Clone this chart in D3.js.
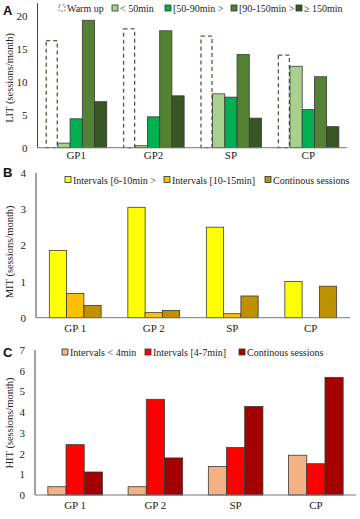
<!DOCTYPE html>
<html><head><meta charset="utf-8">
<script src="https://cdn.jsdelivr.net/npm/d3@7"></script>
<style>
body{margin:0;background:#fff;}
svg{display:block;}
</style></head>
<body>
<svg id="chart" width="360" height="519" font-family="'Liberation Serif', 'DejaVu Serif', serif"></svg>
<script>
// ---------- Data ----------
const groupsA = ["GP1", "GP2", "SP", "CP"];
const seriesA = ["Warm up", "< 50min", "[50-90min >", "[90-150min >", "\u2265 150min"];
const warmUp   = [16.3, 18.1, 17.0, 14.1];
const lt50     = [0.7, 0.3, 8.2, 12.4];
const m50to90  = [4.4, 4.7, 7.7, 5.8];
const m90to150 = [19.4, 17.8, 14.2, 10.8];
const ge150    = [7.0, 7.9, 4.5, 3.2];
const ticksA = [0, 5, 10, 15, 20];

const groupsBC = ["GP 1", "GP 2", "SP", "CP"];
const seriesB = ["Intervals [6-10min >", "Intervals [10-15min]", "Continous sessions"];
const mitInt6to10  = [1.86, 3.05, 2.5, 1.0];
const mitInt10to15 = [0.67, 0.14, 0.11, 0];
const mitCont      = [0.34, 0.2, 0.6, 0.87];
const ticksB = [0, 1, 2, 3, 4];

const seriesC = ["Intervals < 4min", "Intervals [4-7min]", "Continous sessions"];
const hitIntLt4  = [0.4, 0.4, 1.38, 1.92];
const hitInt4to7 = [2.43, 4.62, 2.29, 1.51];
const hitCont    = [1.11, 1.79, 4.27, 5.68];
const ticksC = [0, 1, 2, 3, 4, 5, 6, 7];

// ---------- Drawing ----------
const svg = d3.select("#chart");
const SERIF = "'Liberation Serif', 'DejaVu Serif', serif";

function txt(sel, size) {
  return sel.attr("font-family", SERIF).attr("font-weight", "normal")
    .attr("font-size", size).attr("fill", "#222");
}

function panel(o) {
  const g = svg.append("g");
  const x0 = d3.scaleBand().domain(o.groups).range(o.xr).paddingInner(o.pad).paddingOuter(o.pad / 2);
  const x1 = d3.scaleBand().domain(o.series).range([0, x0.bandwidth()]);
  const y = d3.scaleLinear().domain(o.yd).range(o.yr);

  // letter
  g.append("text").attr("x", 3).attr("y", o.letterY)
    .attr("font-family", "'Liberation Sans', Arial, sans-serif").attr("font-weight", "bold")
    .attr("font-size", 13).attr("fill", "#111").text(o.letter);

  // y tick labels
  txt(g.selectAll(".yt").data(o.ticks).join("text")
    .attr("x", o.xr[0] - 10).attr("y", d => y(d) + 4)
    .attr("text-anchor", "end"), 11).text(d => d);

  // y title
  txt(g.append("text")
    .attr("transform", `translate(13,${(o.yr[0] + o.titleTop) / 2}) rotate(-90)`)
    .attr("text-anchor", "middle"), 10.5).text(o.title);

  // bars
  o.series.forEach((s, i) => {
    const vals = o.values[i];
    const dashed = o.dashed && o.dashed[i];
    g.selectAll(null).data(o.groups.map((gr, j) => ({gr, v: vals[j]}))).join("rect")
      .filter(d => d.v > 0)
      .attr("x", d => x0(d.gr) + x1(s) + (dashed ? 0.6 : 0))
      .attr("width", x1.bandwidth() - (dashed ? 1.2 : 0))
      .attr("y", d => y(d.v))
      .attr("height", d => y(0) - y(d.v))
      .attr("fill", o.colors[i])
      .attr("stroke", dashed ? "#3e6b2c" : "#3a3a3a")
      .attr("stroke-width", dashed ? 1.3 : 0.8)
      .attr("stroke-dasharray", dashed ? "4,3" : null);
  });

  // axes lines
  g.append("line").attr("x1", o.xr[0]).attr("x2", o.xr[0])
    .attr("y1", y(o.yd[1])).attr("y2", y(0)).attr("stroke", "#444").attr("stroke-width", 1);
  g.append("line").attr("x1", o.xr[0]).attr("x2", o.xr[1])
    .attr("y1", y(0)).attr("y2", y(0)).attr("stroke", "#777").attr("stroke-width", 1);

  // category labels
  txt(g.selectAll(".xl").data(o.groups).join("text")
    .attr("x", d => x0(d) + x0.bandwidth() / 2).attr("y", o.catY)
    .attr("text-anchor", "middle"), 11).text(d => d);

  // legend
  o.series.forEach((s, i) => {
    const lx = o.legX[i];
    const dashed = o.dashed && o.dashed[i];
    g.append("rect").attr("x", lx).attr("y", o.legY - 7).attr("width", 6).attr("height", 6)
      .attr("fill", o.colors[i])
      .attr("stroke", dashed ? "#3e6b2c" : "#333").attr("stroke-width", 0.8)
      .attr("stroke-dasharray", dashed ? "2,1.5" : null);
    txt(g.append("text").attr("x", lx + 8).attr("y", o.legY), 10).text(s);
  });
}

panel({
  letter: "A", letterY: 15, groups: groupsA, series: seriesA,
  values: [warmUp, lt50, m50to90, m90to150, ge150],
  colors: ["#ffffff", "#a9d18e", "#00b050", "#548235", "#375623"],
  dashed: [true, false, false, false, false],
  xr: [37.5, 347], pad: 0.21, yd: [0, 22], yr: [147.7, 3.2], ticks: ticksA,
  title: "LIT (sessions/month)", titleTop: 8, catY: 159,
  legY: 12, legX: [59, 112, 165, 231, 296]
});

panel({
  letter: "B", letterY: 177, groups: groupsBC, series: seriesB,
  values: [mitInt6to10, mitInt10to15, mitCont],
  colors: ["#ffff00", "#ffc000", "#bf9000"],
  xr: [36, 350], pad: 0.34, yd: [0, 4], yr: [317.7, 172.9], ticks: ticksB,
  title: "MIT (sessions/month)", titleTop: 186, catY: 332,
  legY: 183.5, legX: [65, 164, 265]
});

panel({
  letter: "C", letterY: 357, groups: groupsBC, series: seriesC,
  values: [hitIntLt4, hitInt4to7, hitCont],
  colors: ["#f4b183", "#ff0000", "#a50000"],
  xr: [35, 356], pad: 0.32, yd: [0, 7], yr: [495, 350], ticks: ticksC,
  title: "HIT (sessions/month)", titleTop: 351, catY: 509,
  legY: 356, legX: [62, 145, 239]
});
</script>
</body></html>
